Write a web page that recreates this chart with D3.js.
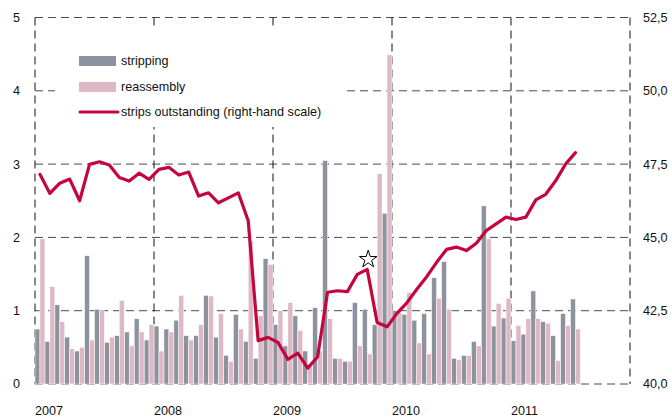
<!DOCTYPE html>
<html>
<head>
<meta charset="utf-8">
<script src="https://cdn.jsdelivr.net/npm/d3@7"></script>
<style>
  body { margin: 0; background: #fff; }
  text { font-family: "Liberation Sans", Arial, sans-serif; font-size: 12.6px; fill: #111; }
</style>
</head>
<body>
<svg id="chart" width="672" height="420"></svg>
<script>
// monthly values, Jan 2007 - Jul 2011
var stripping = [0.75, 0.58, 1.08, 0.64, 0.45, 1.75, 1.02, 0.57, 0.66, 0.71, 0.89, 0.60,
	0.79, 0.75, 0.87, 0.66, 0.66, 1.21, 0.64, 0.39, 0.95, 0.58, 0.35, 1.71,
	0.81, 0.52, 0.93, 0.45, 1.04, 3.05, 0.35, 0.31, 1.11, 1.02, 0.81, 2.33,
	1.00, 0.95, 0.87, 0.96, 1.45, 1.67, 0.35, 0.39, 0.58, 2.43, 0.79, 0.90,
	0.59, 0.68, 1.27, 0.85, 0.66, 0.96, 1.16]
var reassembly = [1.98, 1.33, 0.85, 0.48, 0.50, 0.60, 1.00, 0.64, 1.14, 0.52, 0.71, 0.81,
	0.45, 0.71, 1.21, 0.60, 0.81, 1.20, 0.96, 0.31, 0.75, 1.95, 0.93, 1.63,
	1.00, 1.11, 0.73, 0.25, 0.45, 0.89, 0.35, 0.31, 0.52, 0.41, 2.87, 4.49,
	0.97, 1.25, 0.56, 0.41, 1.17, 1.02, 0.33, 0.39, 0.52, 1.98, 1.10, 1.17,
	0.80, 0.89, 0.89, 0.83, 0.32, 0.80, 0.75]
var outstanding = [47.15, 46.50, 46.85, 46.99, 46.25, 47.49, 47.58, 47.47, 47.04, 46.92, 47.19, 46.98,
	47.32, 47.39, 47.13, 47.23, 46.41, 46.52, 46.18, 46.35, 46.52, 45.57, 41.48, 41.59,
	41.42, 40.84, 41.05, 40.54, 40.93, 43.13, 43.18, 43.15, 43.74, 43.91, 42.10, 41.95,
	42.41, 42.77, 43.23, 43.66, 44.15, 44.59, 44.67, 44.55, 44.80, 45.23, 45.46, 45.69,
	45.61, 45.69, 46.28, 46.47, 46.93, 47.50, 47.89]
var years = [2007, 2008, 2009, 2010, 2011]
var leftTicks = [0, 1, 2, 3, 4, 5]
var rightTicks = [40, 42.5, 45, 47.5, 50, 52.5]
var starMonth = 33  // Oct 2009
var legendText = ['stripping', 'reassembly', 'strips outstanding (right-hand scale)']

var grey = '#8d939e', pink = '#dcb9c5', red = '#c4063f'

var svg = d3.select('#chart')
var plotL = 35, plotR = 630, plotT = 17.5, plotB = 384

// 60 months on the axis, data only for the first 55
var months = d3.timeMonth.range(new Date(2007, 0, 1), new Date(2012, 0, 1))
var x = d3.scaleBand().domain(d3.range(months.length)).range([plotL, plotR]).padding(0)
var sub = d3.scaleBand().domain([0, 1]).range([0, x.bandwidth()]).padding(0)
var yL = d3.scaleLinear().domain([0, 5]).range([plotB, plotT])
var yR = d3.scaleLinear().domain([40, 52.5]).range([plotB, plotT])

// grid
var grid = svg.append('g')
grid.selectAll('.hgrid')
	.data(leftTicks)
	.join('line')
	.attr('class', 'hgrid')
	.attr('x1', plotL).attr('x2', plotR)
	.attr('y1', function (d) { return yL(d) }).attr('y2', function (d) { return yL(d) })
	.attr('stroke', '#4a4a4a').attr('stroke-dasharray', '8,5')
var yearX = years.map(function (y) { return x((y - 2007) * 12) }).concat([plotR])
grid.selectAll('.vgrid')
	.data(yearX)
	.join('line')
	.attr('class', 'vgrid')
	.attr('x1', function (d) { return d }).attr('x2', function (d) { return d })
	.attr('y1', plotT).attr('y2', plotB)
	.attr('stroke', '#111').attr('stroke-dasharray', '8,5')

// bars
var bars = svg.append('g')
bars.selectAll('.strip')
	.data(stripping)
	.join('rect')
	.attr('class', 'strip')
	.attr('x', function (d, i) { return x(i) + sub(0) })
	.attr('width', sub.bandwidth())
	.attr('y', function (d) { return yL(d) })
	.attr('height', function (d) { return yL(0) - yL(d) })
	.attr('fill', grey).attr('stroke', '#fff').attr('stroke-width', 0.5)
bars.selectAll('.reas')
	.data(reassembly)
	.join('rect')
	.attr('class', 'reas')
	.attr('x', function (d, i) { return x(i) + sub(1) })
	.attr('width', sub.bandwidth())
	.attr('y', function (d) { return yL(d) })
	.attr('height', function (d) { return yL(0) - yL(d) })
	.attr('fill', pink).attr('stroke', '#fff').attr('stroke-width', 0.5)

// line
var line = d3.line()
	.x(function (d, i) { return x(i) + x.bandwidth() / 2 })
	.y(function (d) { return yR(d) })
svg.append('path')
	.datum(outstanding)
	.attr('d', line)
	.attr('fill', 'none').attr('stroke', red).attr('stroke-width', 3.2)
	.attr('stroke-linejoin', 'round').attr('stroke-linecap', 'round')

svg.append('path')
	.attr('d', d3.symbol(d3.symbolStar, 95)())
	.attr('transform', 'translate(' + (x(starMonth) + x.bandwidth() / 2 + 1) + ',' + (yR(outstanding[starMonth]) - 10) + ')')
	.attr('fill', '#fff').attr('stroke', '#000').attr('stroke-width', 1)

// axes labels
svg.selectAll('.lt')
	.data(leftTicks)
	.join('text')
	.attr('class', 'lt')
	.attr('x', 20).attr('y', function (d) { return yL(d) })
	.attr('dy', '0.35em').attr('text-anchor', 'end')
	.text(function (d) { return d })
var fmt = function (d) { return d3.format('.1f')(d).replace('.', ',') }
svg.selectAll('.rt')
	.data(rightTicks)
	.join('text')
	.attr('class', 'rt')
	.attr('x', 643).attr('y', function (d) { return yR(d) })
	.attr('dy', '0.35em')
	.text(fmt)
svg.selectAll('.yr')
	.data(years)
	.join('text')
	.attr('class', 'yr')
	.attr('x', function (d) { return x((d - 2007) * 12) })
	.attr('y', 415)
	.text(function (d) { return d })

// legend
var lg = svg.append('g')
lg.append('rect').attr('x', 55).attr('y', 30).attr('width', 288).attr('height', 97).attr('fill', '#fff')
lg.append('rect').attr('x', 79).attr('y', 56).attr('width', 37).attr('height', 10).attr('fill', grey)
lg.append('rect').attr('x', 79).attr('y', 82).attr('width', 37).attr('height', 10).attr('fill', pink)
lg.append('line').attr('x1', 80).attr('x2', 118).attr('y1', 112).attr('y2', 112)
	.attr('stroke', red).attr('stroke-width', 3).attr('stroke-linecap', 'round')
lg.selectAll('.lt2')
	.data(legendText)
	.join('text')
	.attr('class', 'lt2')
	.attr('x', 121)
	.attr('y', function (d, i) { return 61 + 26 * i + (i == 2 ? -1 : 0) })
	.attr('dy', '0.35em')
	.text(function (d) { return d })
</script>
</body>
</html>
